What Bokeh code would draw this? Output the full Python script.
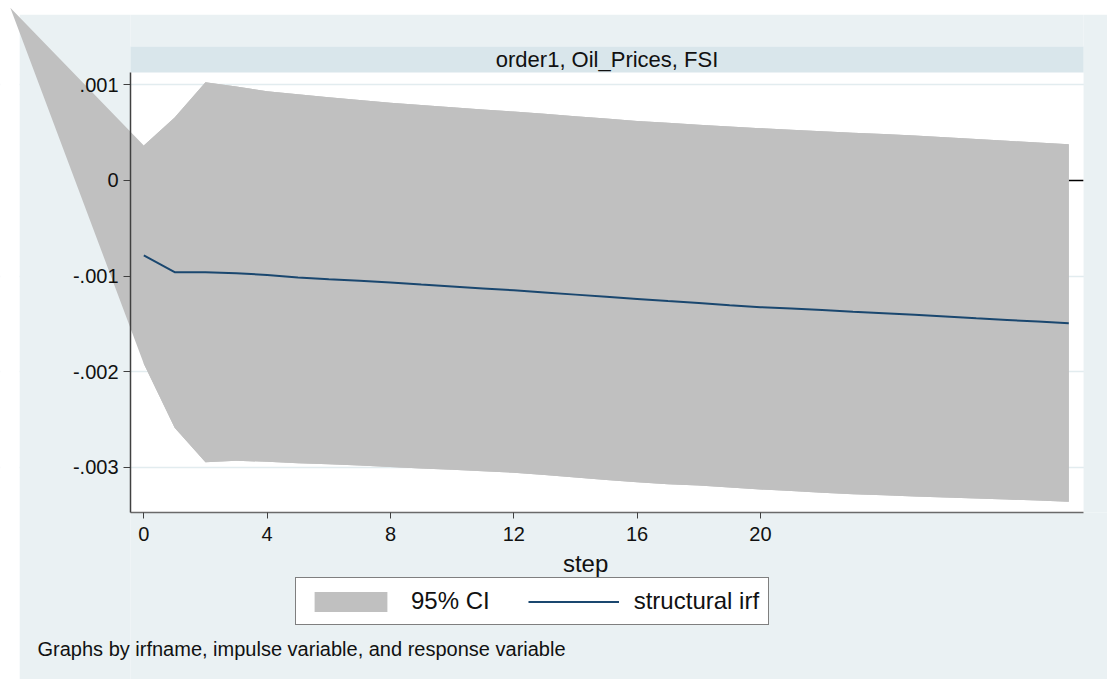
from bokeh.plotting import figure
from bokeh.models import (Range1d, FixedTicker, BoxAnnotation, PolyAnnotation,
                          Label, Legend, LegendItem)
from bokeh.embed import file_html
from bokeh.resources import INLINE

# ---------------- data ----------------
steps = list(range(31))
irf = [-0.000785, -0.00096, -0.00096, -0.00097, -0.00099, -0.001015, -0.001035, -0.00105,
       -0.001068, -0.00109, -0.00111, -0.00113, -0.00115, -0.001172, -0.001195, -0.001218,
       -0.00124, -0.001262, -0.001283, -0.001305, -0.001326, -0.00134, -0.001357, -0.001374,
       -0.00139, -0.001407, -0.001425, -0.001443, -0.00146, -0.001477, -0.001495]
ci_upper = [0.000366, 0.00066, 0.00103, 0.000985, 0.000935, 0.000903, 0.000872, 0.000842,
            0.000815, 0.00079, 0.000766, 0.000744, 0.000722, 0.000698, 0.000674, 0.000648,
            0.000624, 0.000605, 0.000585, 0.000566, 0.000548, 0.000532, 0.000516, 0.000501,
            0.000486, 0.000471, 0.000453, 0.000435, 0.000416, 0.000398, 0.00038]
ci_lower = [-0.00192, -0.00259, -0.00295, -0.002935, -0.002945, -0.00296, -0.00297, -0.002985,
            -0.003, -0.003015, -0.00303, -0.003045, -0.00306, -0.003085, -0.00311, -0.003135,
            -0.00316, -0.00318, -0.003195, -0.003215, -0.003235, -0.003252, -0.00327, -0.003285,
            -0.003297, -0.003308, -0.00332, -0.00333, -0.00334, -0.003352, -0.003365]
# stray vertex of the CI polygon (drawn outside the plot region in the original)
ci_extra_step = -4.33
ci_extra_value = 0.00181

x_ticks = [0, 4, 8, 12, 16, 20]
y_ticks = [-0.003, -0.002, -0.001, 0.0, 0.001]
y_tick_labels = ["-.003", "-.002", "-.001", "0", ".001"]
grid_ticks = [-0.003, -0.002, -0.001, 0.001]
zero_line = [0.0]
panel_title = "order1, Oil_Prices, FSI"
x_label = "step"
legend_labels = ["95% CI", "structural irf"]
note = "Graphs by irfname, impulse variable, and response variable"

# ---------------- style / layout ----------------
BG = "#EAF1F3"
STRIP = "#D9E6EB"
CI_COLOR = "#C0C0C0"
NAVY = "#1A476F"
FONT = "Liberation Sans"
TXT = "#111111"

# the frame covers the whole canvas; data-space positions of the layout regions
X_FRAME_L, X_FRAME_R = -4.648, 31.256          # canvas edges
Y_FRAME_B, Y_FRAME_T = -0.0052251, 0.0018848
X_GRAPH_L, Y_GRAPH_T = -4.032, 0.001738        # graph-region (tinted) edges
X_PLOT_L, X_PLOT_R = -0.431, 30.48             # plot-region edges
Y_PLOT_B, Y_PLOT_T, Y_STRIP_T = -0.003476, 0.001131, 0.001403
X_NOTE, Y_NOTE = -3.448, -0.004906
X_XLABEL, Y_XLABEL = 14.33, -0.00401

p = figure(frame_width=1107, frame_height=679, title=None,
           x_range=Range1d(X_FRAME_L, X_FRAME_R), y_range=Range1d(Y_FRAME_B, Y_FRAME_T),
           output_backend="svg", toolbar_location=None,
           min_border_left=0, min_border_right=0, min_border_top=0, min_border_bottom=0,
           background_fill_color="white", border_fill_color=BG, outline_line_color=None)

# grid (only visible inside the plot region; tinted bands cover the rest)
p.xgrid.grid_line_color = None
p.ygrid.ticker = FixedTicker(ticks=grid_ticks)
p.ygrid.grid_line_color = "#E2ECEF"
p.ygrid.grid_line_width = 1.5

# zero reference line across the plot region (beneath everything else)
p.segment(x0=[X_PLOT_L], x1=[X_PLOT_R], y0=zero_line, y1=zero_line,
          line_color="black", line_width=1.5, level="image")

def band(**kw):
    p.add_layout(BoxAnnotation(fill_alpha=1.0, line_alpha=0, level="underlay", **kw))

# tinted graph region around the plot region
band(left=X_GRAPH_L, right=X_PLOT_L, top=Y_GRAPH_T, fill_color=BG)
band(left=X_PLOT_L, top=Y_PLOT_B, fill_color=BG)
band(left=X_PLOT_R, top=Y_GRAPH_T, bottom=Y_PLOT_B, fill_color=BG)
band(left=X_PLOT_L, right=X_PLOT_R, top=Y_GRAPH_T, bottom=Y_STRIP_T, fill_color=BG)
# white page margins
band(right=X_GRAPH_L, fill_color="white")
band(bottom=Y_GRAPH_T, fill_color="white")
# title strip
band(left=X_PLOT_L, right=X_PLOT_R, bottom=Y_PLOT_T, top=Y_STRIP_T, fill_color=STRIP)
p.add_layout(Label(x=(X_PLOT_L + X_PLOT_R) / 2, y=(Y_PLOT_T + Y_STRIP_T) / 2, text=panel_title,
                   text_align="center", text_baseline="middle",
                   text_font=FONT, text_font_size="22px", text_color=TXT))

# CI polygon (full, incl. stray vertex)
poly_xs = [ci_extra_step] + steps + steps[::-1]
poly_ys = [ci_extra_value] + ci_upper + ci_lower[::-1]
p.add_layout(PolyAnnotation(xs=poly_xs, ys=poly_ys, fill_color=CI_COLOR, fill_alpha=1.0,
                            line_alpha=0, level="underlay"))

r_ci = p.varea(x=steps, y1=ci_lower, y2=ci_upper, fill_color=CI_COLOR)
r_irf = p.line(steps, irf, line_color=NAVY, line_width=2)

# y axis, drawn at the plot region's left edge
p.yaxis.fixed_location = X_PLOT_L
p.yaxis.ticker = FixedTicker(ticks=y_ticks)
p.yaxis.major_label_overrides = {t: l for t, l in zip(y_ticks, y_tick_labels)}
p.yaxis.bounds = (Y_PLOT_B, Y_PLOT_T)
p.yaxis.axis_line_color = "#404040"
p.yaxis.axis_line_width = 1.5
p.yaxis.major_tick_line_color = "#404040"
p.yaxis.major_tick_out = 7
p.yaxis.major_tick_in = 0
p.yaxis.minor_tick_line_color = None
p.yaxis.major_label_standoff = 5
p.yaxis.major_label_text_font = FONT
p.yaxis.major_label_text_font_size = "20px"
p.yaxis.major_label_text_color = TXT

# x axis, drawn at the plot region's bottom edge
p.xaxis.fixed_location = Y_PLOT_B
p.xaxis.ticker = FixedTicker(ticks=x_ticks)
p.xaxis.bounds = (X_PLOT_L, X_PLOT_R)
p.xaxis.axis_line_color = "#6A6A6A"
p.xaxis.axis_line_width = 1.5
p.xaxis.major_tick_line_color = "#404040"
p.xaxis.major_tick_out = 6
p.xaxis.major_tick_in = 0
p.xaxis.minor_tick_line_color = None
p.xaxis.major_label_standoff = 9
p.xaxis.major_label_text_font = FONT
p.xaxis.major_label_text_font_size = "20px"
p.xaxis.major_label_text_color = TXT

p.add_layout(Label(x=X_XLABEL, y=Y_XLABEL, text=x_label, text_align="center",
                   text_baseline="middle", text_font=FONT, text_font_size="24px",
                   text_color=TXT))

legend = Legend(items=[LegendItem(label=legend_labels[0], renderers=[r_ci]),
                       LegendItem(label=legend_labels[1], renderers=[r_irf])],
                orientation="horizontal", location=(295, 54),
                border_line_color="black", border_line_width=1,
                background_fill_color="white", background_fill_alpha=1.0,
                glyph_width=91, glyph_height=25, label_height=25,
                label_text_font=FONT, label_text_font_size="24px",
                label_text_color=TXT, label_standoff=15, spacing=38,
                padding=9, margin=0)
p.add_layout(legend)

p.add_layout(Label(x=X_NOTE, y=Y_NOTE, text=note, text_align="left", text_baseline="middle",
                   text_font=FONT, text_font_size="20px", text_color=TXT))

open("out.html", "w").write(file_html(p, INLINE))
